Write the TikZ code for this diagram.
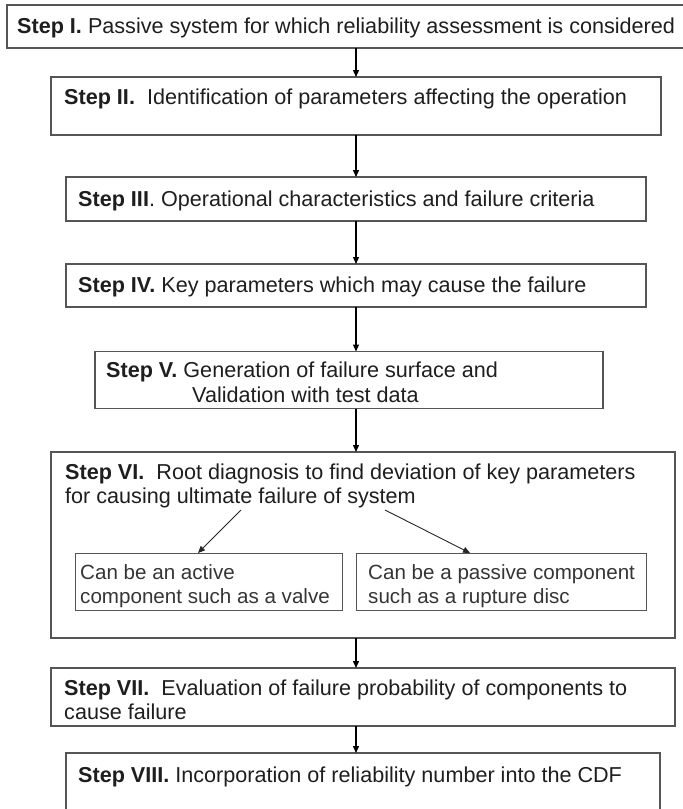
\documentclass[tikz,border=0pt]{standalone}
\usepackage{fontspec}
\setmainfont{Liberation Sans}
\usetikzlibrary{arrows.meta}
\definecolor{boxline}{HTML}{555555}
\definecolor{txtcol}{HTML}{1E1E1E}
\tikzset{
  box/.style={draw=boxline, line width=1.3pt, rectangle, inner sep=0pt, outer sep=0pt},
  txt/.style={anchor=base west, inner sep=0pt, text=txtcol, font=\fontsize{21.6}{24}\selectfont},
  subtxt/.style={txt, text=txtcol!90, font=\fontsize{20.6}{24}\selectfont},
  arr/.style={draw=black, line width=1.3pt, -{Triangle[length=7pt,width=6pt]}},
  thinarr/.style={draw=black!85, line width=0.9pt, -{Triangle[length=7pt,width=6pt]}}
}
\begin{document}
\begin{tikzpicture}[x=1pt,y=-1pt]
\useasboundingbox (0,0) rectangle (683,809);
% boxes
\node[box, minimum width=678pt, minimum height=43pt] (s1) at (346,26.5) {};
\node[box, minimum width=610pt, minimum height=58pt] (s2) at (356,106) {};
\node[box, minimum width=580pt, minimum height=44pt] (s3) at (356,199) {};
\node[box, minimum width=580pt, minimum height=43pt] (s4) at (356,285.5) {};
\node[box, minimum width=508pt, minimum height=57pt] (s5) at (349,380) {};
\node[box, minimum width=624pt, minimum height=186pt] (s6) at (363,545) {};
\node[box, line width=1pt, minimum width=267pt, minimum height=57pt] (c1) at (208.5,581.5) {};
\node[box, line width=1pt, minimum width=290pt, minimum height=57pt] (c2) at (501,581.5) {};
\node[box, minimum width=624pt, minimum height=58pt] (s7) at (363,697) {};
\node[box, minimum width=594pt, minimum height=64pt] (s8) at (363,785) {};
% texts
\node[txt] (t1) at (17,33) {\textbf{Step I.} Passive system for which reliability assessment is considered};
\node[txt] (t2) at (64,104) {\textbf{Step II.}\ \ Identification of parameters affecting the operation};
\node[txt] (t3) at (78,206) {\textbf{Step III}. Operational characteristics and failure criteria};
\node[txt] (t4) at (78,292) {\textbf{Step IV.} Key parameters which may cause the failure};
\node[txt] (t5a) at (106,377) {\textbf{Step V.} Generation of failure surface and};
\node[txt] (t5b) at (192,402) {Validation with test data};
\node[txt] (t6a) at (65,479) {\textbf{Step VI.}\ \ Root diagnosis to find deviation of key parameters};
\node[txt] (t6b) at (65,503) {for causing ultimate failure of system};
\node[subtxt] (c1a) at (80,579) {Can be an active};
\node[subtxt] (c1b) at (80,603) {component such as a valve};
\node[subtxt] (c2a) at (368,579) {Can be a passive component};
\node[subtxt] (c2b) at (368,603) {such as a rupture disc};
\node[txt] (t7a) at (64,695) {\textbf{Step VII.}\ \ Evaluation of failure probability of components to};
\node[txt] (t7b) at (64,719) {cause failure};
\node[txt] (t8) at (78,782) {\textbf{Step VIII.} Incorporation of reliability number into the CDF};
% connectors
\coordinate (ax) at (356,0);
\draw[arr] (ax |- s1.south) -- (ax |- s2.north);
\draw[arr] (ax |- s2.south) -- (ax |- s3.north);
\draw[arr] (ax |- s3.south) -- (ax |- s4.north);
\draw[arr] (ax |- s4.south) -- (ax |- s5.north);
\draw[arr] (ax |- s5.south) -- (ax |- s6.north);
\draw[arr] (ax |- s6.south) -- (ax |- s7.north);
\draw[arr] (ax |- s7.south) -- (ax |- s8.north);
\coordinate (p1) at (241,510);
\coordinate (q1) at (198,0);
\coordinate (p2) at (385,510);
\coordinate (q2) at (470,0);
\draw[thinarr] (p1) -- (q1 |- c1.north);
\draw[thinarr] (p2) -- (q2 |- c2.north);
\end{tikzpicture}
\end{document}
